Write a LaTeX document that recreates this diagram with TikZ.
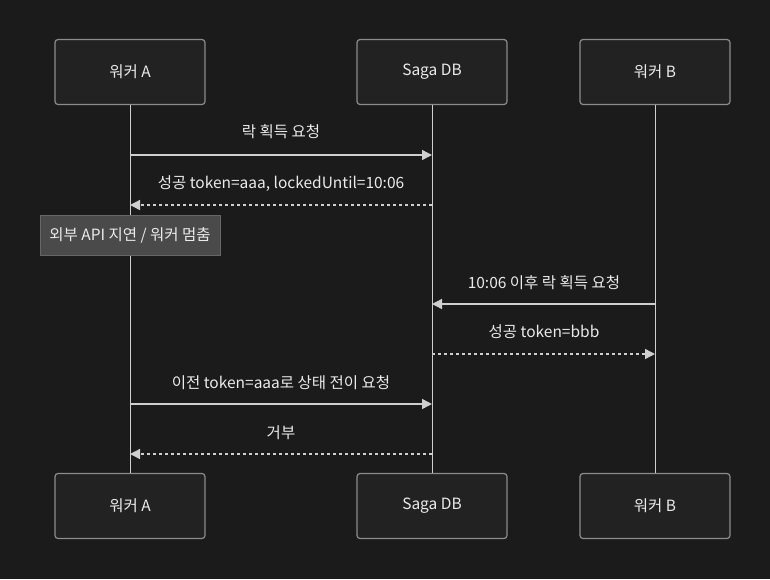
\documentclass[tikz,border=0pt]{standalone}
\usepackage{fontspec}
\setmainfont{Noto Sans CJK KR}
\usetikzlibrary{arrows.meta}
\definecolor{bg}{HTML}{1B1B1B}
\definecolor{boxfill}{HTML}{222222}
\definecolor{boxline}{HTML}{8C8C8C}
\definecolor{linec}{HTML}{CFCFCF}
\definecolor{txt}{HTML}{EAEAEA}
\definecolor{notefill}{HTML}{4A4A4A}
\definecolor{noteline}{HTML}{666666}
\tikzset{
  actor/.style={draw=boxline, fill=boxfill, rounded corners=3pt, line width=1.2pt,
    minimum width=150pt, minimum height=65pt, inner sep=0pt, text=txt, font=\fontsize{15.5}{17}\selectfont},
  life/.style={draw=linec, line width=1pt},
  msg/.style={draw=linec, line width=1.4pt, -{Triangle[length=10pt,width=10pt]}},
  reply/.style={msg, dash pattern=on 3pt off 3pt},
  lbl/.style={text=txt, font=\fontsize{15.5}{17}\selectfont, inner sep=0pt},
  note/.style={draw=noteline, fill=notefill, line width=1pt, minimum width=180pt, minimum height=40pt,
    inner sep=0pt, text=txt, font=\fontsize{15.5}{17}\selectfont}
}
\begin{document}
\begin{tikzpicture}[x=1pt,y=-1pt]
\fill[bg] (0,0) rectangle (770,579);
\useasboundingbox (0,0) rectangle (770,579);
% actors
\node[actor] (aT) at (130,72) {워커 A};
\node[actor] (sT) at (432,72) {Saga DB};
\node[actor] (bT) at (655,72) {워커 B};
\node[actor] (aB) at (130,506) {워커 A};
\node[actor] (sB) at (432,506) {Saga DB};
\node[actor] (bB) at (655,506) {워커 B};
% lifelines
\draw[life] (aT.south) -- (aB.north);
\draw[life] (sT.south) -- (sB.north);
\draw[life] (bT.south) -- (bB.north);
% message anchor points
\foreach \n/\y in {1/155,2/205,4/304,5/354,6/404,7/454}{
  \coordinate (a\n) at (130,\y);
  \coordinate (s\n) at (432,\y);
  \coordinate (b\n) at (655,\y);
}
\draw[msg] (a1) -- (s1);
\node[lbl] at (281,132) {락 획득 요청};
\draw[reply] (s2) -- (a2);
\node[lbl] at (281,184) {성공 token=aaa, lockedUntil=10:06};
\node[note] (n1) at (130,235) {외부 API 지연 / 워커 멈춤};
\draw[msg] (b4) -- (s4);
\node[lbl] at (544,283) {10:06 이후 락 획득 요청};
\draw[reply] (s5) -- (b5);
\node[lbl] at (544,332) {성공 token=bbb};
\draw[msg] (a6) -- (s6);
\node[lbl] at (281,383) {이전 token=aaa로 상태 전이 요청};
\draw[reply] (s7) -- (a7);
\node[lbl] at (281,433) {거부};
\end{tikzpicture}
\end{document}
